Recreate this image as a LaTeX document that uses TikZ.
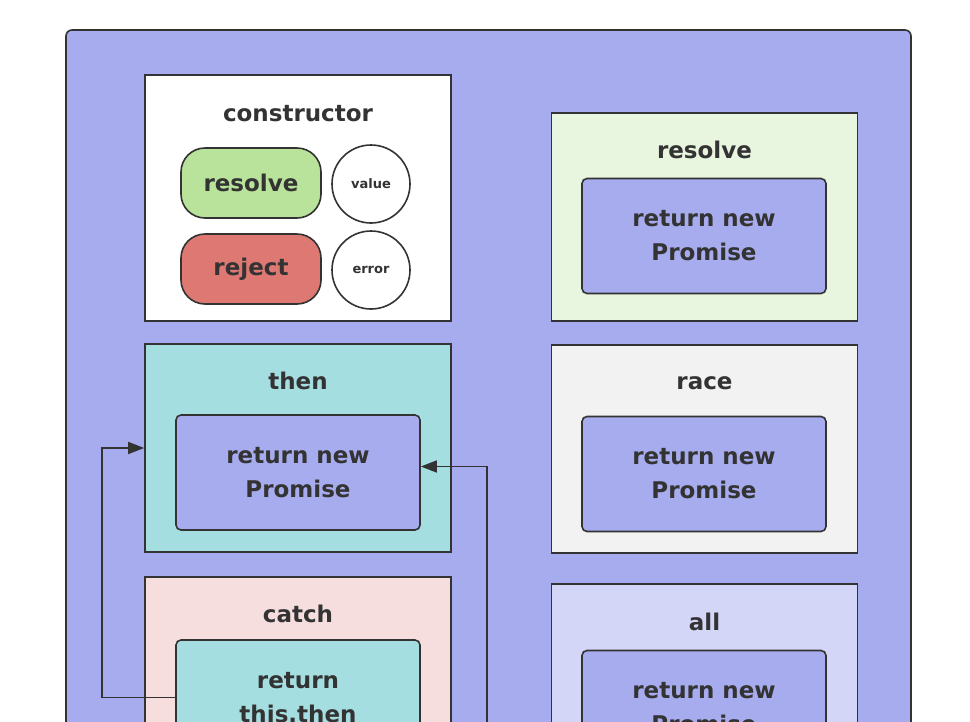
\documentclass[tikz,border=0pt]{standalone}
\usepackage{fontspec}
\setmainfont{DejaVu Sans}
\usetikzlibrary{arrows.meta}

\definecolor{promiseblue}{HTML}{A7ACEF}
\definecolor{edge}{HTML}{333333}
\definecolor{okgreen}{HTML}{B9E29B}
\definecolor{errred}{HTML}{DE7873}
\definecolor{resolvebg}{HTML}{E8F5DF}
\definecolor{thenbg}{HTML}{A5DEE1}
\definecolor{racebg}{HTML}{F2F2F2}
\definecolor{catchbg}{HTML}{F5DEDD}
\definecolor{allbg}{HTML}{D4D6F7}

\tikzset{
  group/.style={draw=edge, line width=1.6pt, rectangle, minimum width=306pt, minimum height=208pt, inner sep=0pt},
  inner/.style={draw=edge, line width=1.6pt, rectangle, rounded corners=5pt, fill=promiseblue, minimum width=244pt, minimum height=115pt, align=center, text=edge, font=\fontsize{23}{34}\selectfont\bfseries},
  title/.style={text=edge, font=\fontsize{23}{30}\selectfont\bfseries},
  pill/.style={draw=edge, line width=1.6pt, rectangle, rounded corners=24pt, minimum width=140pt, minimum height=70pt, text=edge, font=\fontsize{23}{30}\selectfont\bfseries},
  arg/.style={draw=edge, line width=1.6pt, circle, fill=white, minimum size=78pt, inner sep=0pt, text=edge, font=\fontsize{13}{16}\selectfont\bfseries},
  flow/.style={draw=edge, line width=1.6pt, -{Triangle[length=16pt,width=12pt]}}
}

\begin{document}
\begin{tikzpicture}[x=1pt, y=-1pt]
\useasboundingbox (0,0) rectangle (970,721);
\clip (0,0) rectangle (970,721);

\node[draw=edge, line width=1.6pt, rectangle, rounded corners=6pt, fill=promiseblue, minimum width=845pt, minimum height=770pt] (promise) at (488.5,415) {};

% constructor
\node[group, fill=white, minimum height=246pt] (ctor) at (298,198) {};
\node[title] (ctortitle) at (298,114) {constructor};
\node[pill, fill=okgreen] (resolvefn) at (251,183) {resolve};
\node[arg] (value) at (371,184) {value};
\node[pill, fill=errred] (rejectfn) at (251,269) {reject};
\node[arg] (error) at (371,270) {error};

% static methods
\node[group, fill=resolvebg] (resolve) at (704.5,217) {};
\node[title] (resolvetitle) at (704.5,150) {resolve};
\node[inner] (resolveret) at (704,236) {return new\\Promise};

\node[group, fill=racebg] (race) at (704.5,449) {};
\node[title] (racetitle) at (704.5,383) {race};
\node[inner] (raceret) at (704,474) {return new\\Promise};

\node[group, fill=allbg] (all) at (704.5,688) {};
\node[title] (alltitle) at (704.5,622) {all};
\node[inner] (allret) at (704,708) {return new\\Promise};

% prototype methods
\node[group, fill=thenbg] (then) at (298,448) {};
\node[title] (thentitle) at (298,381) {then};
\node[inner] (thenret) at (298,472.5) {return new\\Promise};

\node[group, fill=catchbg] (catch) at (298,681) {};
\node[title] (catchtitle) at (298,614) {catch};
\node[inner, fill=thenbg] (catchret) at (298,697.5) {return\\this.then};

\coordinate (catchout) at (487,780);

\draw[flow] (catchret.west) -- ++(-73,0) |- (then.west);
\draw[flow] (catchout) |- ([yshift=6pt]thenret.east);
\end{tikzpicture}
\end{document}
